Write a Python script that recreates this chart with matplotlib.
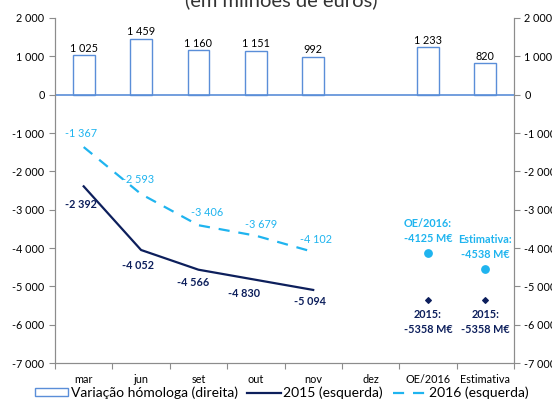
import matplotlib.pyplot as plt
import numpy as np
from matplotlib.patches import Patch
from matplotlib.lines import Line2D
from matplotlib.ticker import FuncFormatter

plt.rcParams['font.family'] = ['Lato', 'DejaVu Sans']

categories = ['mar', 'jun', 'set', 'out', 'nov', 'dez', 'OE/2016', 'Estimativa']
variacao = [1025, 1459, 1160, 1151, 992, None, 1233, 820]
saldo_2015 = [-2392, -4052, -4566, -4830, -5094]
saldo_2016 = [-1367, -2593, -3406, -3679, -4102]
previsao_2016 = [-4125, -4538]
previsao_labels = ['OE/2016:\n-4125 M€', 'Estimativa:\n-4538 M€']
ref_2015 = [-5358, -5358]

navy = '#0d1f5c'
light = '#1fb4ef'
bar_edge = '#5a8ed8'
axis_gray = '#8c8c8c'

def fmt(v, pos=None):
    s = '{:,.0f}'.format(abs(v)).replace(',', ' ')
    return ('-' if v < 0 else '') + s

fig = plt.figure(figsize=(5.52, 4.03), dpi=100)
ax = fig.add_axes([55/552, 1-363/403, (514-55)/552, (363-18)/403])
ax2 = ax.twinx()

x = np.arange(len(categories))
xl = np.arange(len(saldo_2015))

# linhas (eixo esquerdo)
ax.plot(xl, saldo_2015, color=navy, lw=1.6)
ax.plot(xl, saldo_2016, color=light, lw=1.6, dashes=(5, 4))
ax.scatter([6, 7], previsao_2016, color=light, s=28, zorder=5)
ax.scatter([6, 7], ref_2015, color=navy, marker='D', s=8, zorder=5)

fs = 7.8
off16 = [(-0.05, 220), (-0.05, 230), (0.15, 200), (0.1, 160), (0.05, 170)]
for i, v in enumerate(saldo_2016):
    dx, dy = off16[i]
    ax.text(i + dx, v + dy, fmt(v), color=light, fontsize=fs, ha='center', va='bottom')
off15 = [(-0.05, -330), (-0.05, -250), (-0.1, -200), (-0.2, -210), (-0.05, -170)]
for i, v in enumerate(saldo_2015):
    dx, dy = off15[i]
    ax.text(i + dx, v + dy, fmt(v), color=navy, fontsize=fs, fontweight='bold',
            ha='center', va='top')
for i, v in enumerate(previsao_2016):
    ax.text(6 + i, v + 230, previsao_labels[i], color=light, fontsize=fs,
            fontweight='bold', ha='center', va='bottom', linespacing=1.45)
for i, v in enumerate(ref_2015):
    ax.text(6 + i, v - 230, '2015:\n-5358 M€', color=navy, fontsize=fs,
            fontweight='bold', ha='center', va='top', linespacing=1.45)

# barras (eixo direito)
for i, v in enumerate(variacao):
    if v is None:
        continue
    ax2.bar(i, v, width=0.38, facecolor='white', edgecolor=bar_edge, lw=1)
    ax2.text(i, v + 40, fmt(v), color='black', fontsize=fs, ha='center', va='bottom')
ax2.axhline(0, color=bar_edge, lw=1.2)

for a in (ax, ax2):
    a.set_ylim(-7000, 2000)
    a.set_yticks(np.arange(-7000, 2001, 1000))
    a.yaxis.set_major_formatter(FuncFormatter(fmt))
    a.tick_params(axis='y', labelsize=fs, colors='black', color=axis_gray, length=4)
    for s in a.spines.values():
        s.set_color(axis_gray)
    a.spines['top'].set_visible(False)
ax.set_xlim(-0.5, len(categories) - 0.5)
ax.set_xticks(np.arange(-0.5, len(categories) + 0.5, 1))
ax.set_xticklabels([])
ax.set_xticks(x, minor=True)
ax.set_xticklabels(categories, minor=True)
ax.tick_params(axis='x', which='major', color=axis_gray, length=4)
ax.tick_params(axis='x', which='minor', length=0, labelsize=fs, pad=8)

fig.text(0.51, 1 - 6.5/403, '(em milhões de euros)', ha='center', va='baseline',
         fontsize=14.5, color='#333333')

handles = [Patch(facecolor='white', edgecolor=bar_edge, lw=1),
           Line2D([], [], color=navy, lw=1.6),
           Line2D([], [], color=light, lw=1.6, dashes=(5, 4))]
fig.legend(handles, ['Variação hómologa (direita)', '2015 (esquerda)', '2016 (esquerda)'],
           loc='lower center', bbox_to_anchor=(0.51, -0.022), ncol=3, frameon=False,
           fontsize=10, handlelength=2.4, handleheight=0.5, columnspacing=0.7,
           handletextpad=0.2)

fig.savefig('out.png', dpi=100)
